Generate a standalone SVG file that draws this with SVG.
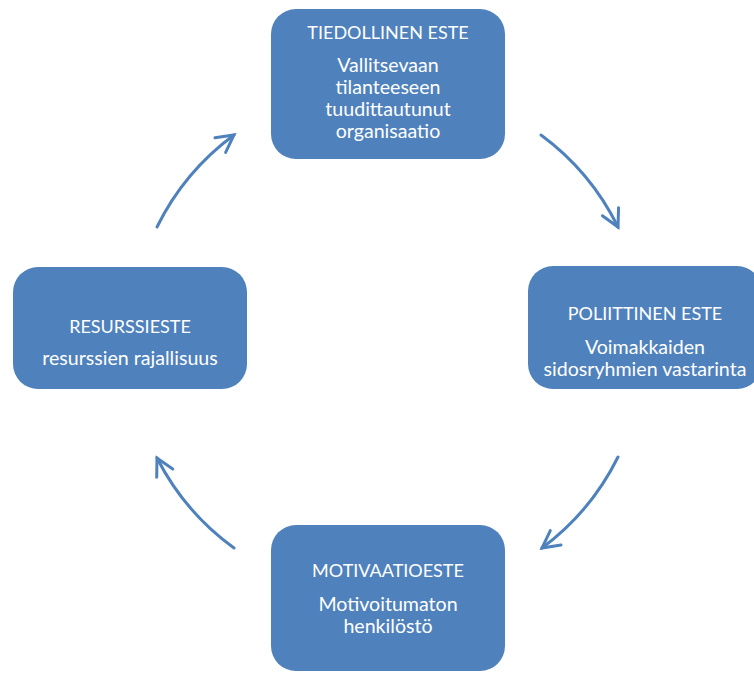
<svg xmlns="http://www.w3.org/2000/svg" width="754" height="673" viewBox="0 0 754 673">
<style>
.box{fill:#4F81BD;}
.t{font-family:Lato,"Liberation Sans",sans-serif;font-size:19.6px;fill:#FFFFFF;text-anchor:middle;}
.h{font-size:18px;}
.arc{fill:none;stroke:#4F81BD;stroke-width:3;stroke-linecap:round;}
</style>
<defs>
<marker id="ah" markerUnits="userSpaceOnUse" markerWidth="40" markerHeight="40" refX="20" refY="20" orient="auto" viewBox="0 0 40 40">
<path d="M3,11 L20,20 L3,29" fill="none" stroke="#4F81BD" stroke-width="3" stroke-linecap="round" stroke-linejoin="miter"/>
</marker>
</defs>
<rect width="754" height="673" fill="#FFFFFF"/>
<g id="connectors">
<path class="arc" d="M541,135 A253,253 0 0 1 618,227" marker-end="url(#ah)"/>
<path class="arc" d="M618,457 A253,253 0 0 1 542,548" marker-end="url(#ah)"/>
<path class="arc" d="M234,548 A253,253 0 0 1 157,458" marker-end="url(#ah)"/>
<path class="arc" d="M157,227 A253,253 0 0 1 234,135" marker-end="url(#ah)"/>
</g>
<g id="tiedollinen">
<rect class="box" x="271" y="9" width="234" height="150" rx="25"/>
<text class="t h" x="388" y="39">TIEDOLLINEN ESTE</text>
<text class="t" x="388" y="72">Vallitsevaan</text>
<text class="t" x="388" y="94">tilanteeseen</text>
<text class="t" x="388" y="116">tuudittautunut</text>
<text class="t" x="388" y="138">organisaatio</text>
</g>
<g id="poliittinen">
<rect class="box" x="528" y="266" width="234" height="123" rx="25"/>
<text class="t h" x="645" y="320">POLIITTINEN ESTE</text>
<text class="t" x="645" y="354">Voimakkaiden</text>
<text class="t" x="645" y="376">sidosryhmien vastarinta</text>
</g>
<g id="motivaatio">
<rect class="box" x="271" y="525" width="234" height="146" rx="25"/>
<text class="t h" x="388" y="577">MOTIVAATIOESTE</text>
<text class="t" x="388" y="611">Motivoitumaton</text>
<text class="t" x="388" y="633">henkilöstö</text>
</g>
<g id="resurssi">
<rect class="box" x="13" y="267" width="234" height="122" rx="25"/>
<text class="t h" x="130" y="333">RESURSSIESTE</text>
<text class="t" x="130" y="365">resurssien rajallisuus</text>
</g>
</svg>
